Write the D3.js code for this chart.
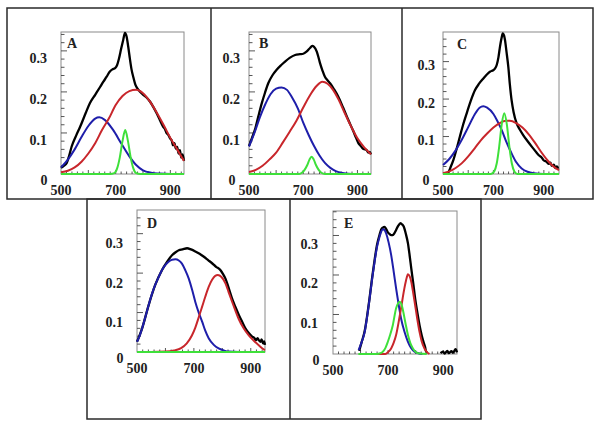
<!DOCTYPE html>
<html>
<head>
<meta charset="utf-8">
<script src="https://cdn.jsdelivr.net/npm/d3@7/dist/d3.min.js"></script>
<style>
  body { margin: 0; background: #fff; }
  svg { display: block; }
</style>
</head>
<body>
<svg id="chart" width="600" height="428"></svg>
<script>
// wavelength (nm) / absorbance pairs
const blackA = [[500,0.015],[510,0.02],[521,0.027],[530,0.045],[539,0.067],[555,0.093],[570,0.115],[590,0.148],[606,0.173],[625,0.193],[643,0.212],[655,0.225],[667,0.237],[678,0.249],[688,0.255],[698,0.258],[705,0.265],[712,0.281],[720,0.305],[728,0.328],[734,0.344],[740,0.335],[746,0.31],[752,0.281],[758,0.255],[765,0.235],[772,0.218],[780,0.208],[790,0.2],[801,0.193],[812,0.187],[826,0.176],[838,0.163],[850,0.148],[862,0.131],[874,0.115],[880,0.11],[886,0.1],[893,0.095],[899,0.087],[905,0.082],[910,0.07],[915,0.075],[920,0.062],[925,0.066],[930,0.05],[935,0.058],[940,0.04],[945,0.048],[950,0.032]];
const blueA = [[500,0.016],[525,0.035],[550,0.06],[575,0.09],[600,0.117],[625,0.135],[640,0.138],[660,0.132],[690,0.108],[720,0.075],[750,0.043],[775,0.022],[800,0.009],[830,0.003],[860,0.001],[900,0],[950,0]];
const redA = [[500,0.004],[525,0.008],[550,0.016],[575,0.03],[600,0.05],[625,0.075],[650,0.107],[675,0.135],[700,0.168],[725,0.19],[750,0.202],[775,0.205],[800,0.197],[825,0.177],[850,0.15],[875,0.12],[900,0.088],[925,0.06],[950,0.032]];
const greenA = [[500,0],[680,0],[695,0.002],[705,0.013],[715,0.04],[725,0.08],[735,0.107],[745,0.08],[755,0.04],[765,0.013],[775,0.002],[790,0],[950,0]];

const blackB = [[500,0.068],[511,0.088],[522,0.108],[535,0.142],[547,0.172],[559,0.198],[571,0.221],[586,0.24],[602,0.254],[618,0.265],[633,0.274],[650,0.283],[670,0.29],[688,0.292],[700,0.293],[712,0.298],[725,0.307],[733,0.312],[740,0.31],[750,0.298],[756,0.285],[762,0.27],[771,0.252],[780,0.237],[790,0.228],[799,0.221],[814,0.206],[829,0.189],[847,0.162],[866,0.132],[885,0.104],[895,0.088],[903,0.076],[910,0.07],[915,0.066],[920,0.062],[928,0.06],[935,0.057],[940,0.052],[945,0.054],[950,0.048]];
const blueB = [[500,0.067],[520,0.1],[540,0.138],[560,0.17],[580,0.195],[600,0.208],[620,0.211],[640,0.205],[660,0.185],[680,0.16],[700,0.125],[720,0.095],[740,0.068],[760,0.045],[780,0.027],[800,0.015],[820,0.007],[850,0.002],[880,0],[950,0]];
const redB = [[500,0.005],[525,0.01],[550,0.02],[575,0.035],[600,0.052],[625,0.077],[650,0.103],[675,0.13],[700,0.162],[725,0.192],[750,0.215],[770,0.225],[790,0.22],[810,0.205],[830,0.182],[850,0.153],[875,0.118],[900,0.087],[925,0.065],[950,0.048]];
const greenB = [[500,0],[685,0],[695,0.003],[705,0.01],[715,0.022],[723,0.035],[731,0.042],[739,0.035],[747,0.022],[757,0.01],[767,0.003],[780,0],[950,0]];

const blackC = [[515,0],[521,0.004],[530,0.018],[541,0.037],[554,0.067],[567,0.1],[580,0.132],[594,0.162],[610,0.195],[627,0.224],[643,0.241],[660,0.255],[673,0.265],[686,0.273],[699,0.277],[706,0.281],[713,0.291],[720,0.312],[726,0.34],[732,0.362],[737,0.375],[742,0.37],[746,0.357],[752,0.325],[759,0.286],[765,0.24],[772,0.197],[780,0.165],[792,0.135],[805,0.118],[818,0.104],[835,0.088],[852,0.073],[870,0.058],[880,0.05],[891,0.044],[900,0.036],[910,0.033],[920,0.027],[926,0.03],[931,0.022],[940,0.025],[946,0.016],[952,0.02],[957,0.014]];
const blueC = [[500,0.024],[525,0.04],[550,0.063],[575,0.092],[600,0.125],[625,0.158],[645,0.177],[660,0.181],[675,0.177],[700,0.16],[715,0.142],[733,0.117],[750,0.088],[772,0.055],[790,0.032],[812,0.015],[835,0.006],[860,0.002],[900,0],[960,0]];
const redC = [[500,0.002],[525,0.007],[550,0.016],[575,0.029],[600,0.047],[625,0.068],[650,0.09],[675,0.108],[700,0.124],[725,0.136],[750,0.142],[765,0.142],[790,0.136],[815,0.124],[840,0.106],[865,0.083],[890,0.058],[915,0.036],[940,0.019],[960,0.01]];
const greenC = [[500,0],[690,0],[703,0.007],[713,0.028],[723,0.074],[733,0.133],[743,0.162],[753,0.133],[763,0.074],[773,0.028],[783,0.007],[795,0],[960,0]];

const blackD = [[500,0.026],[518,0.06],[541,0.119],[564,0.17],[588,0.208],[605,0.228],[624,0.246],[636,0.253],[647,0.258],[660,0.26],[676,0.263],[690,0.26],[705,0.255],[720,0.249],[734,0.242],[750,0.233],[764,0.225],[778,0.216],[793,0.208],[802,0.198],[811,0.186],[822,0.163],[834,0.136],[846,0.114],[858,0.094],[870,0.076],[881,0.06],[893,0.048],[905,0.039],[912,0.036],[918,0.03],[924,0.035],[928,0.03],[934,0.026],[938,0.032],[943,0.022],[947,0.027],[950,0.018]];
const blueD = [[500,0.026],[509,0.04],[518,0.06],[530,0.09],[541,0.119],[552,0.146],[564,0.17],[576,0.19],[588,0.208],[600,0.221],[611,0.229],[623,0.234],[635,0.235],[647,0.232],[658,0.224],[670,0.207],[682,0.186],[694,0.157],[705,0.127],[717,0.1],[729,0.077],[740,0.054],[752,0.035],[770,0.018],[787,0.009],[805,0.004],[822,0.001],[860,0],[950,0]];
const redD = [[500,0],[550,0],[600,0.001],[630,0.004],[655,0.01],[675,0.022],[693,0.042],[705,0.062],[717,0.088],[729,0.115],[740,0.14],[752,0.165],[764,0.183],[775,0.193],[784,0.195],[797,0.19],[811,0.174],[822,0.152],[834,0.128],[846,0.105],[858,0.083],[875,0.06],[893,0.042],[910,0.029],[928,0.017],[947,0.006],[950,0.005]];
const greenD = [[500,0],[950,0]];

const blackE = [[595,0.008],[604,0.03],[615,0.058],[624,0.097],[633,0.143],[642,0.193],[651,0.238],[660,0.277],[669,0.302],[675,0.315],[681,0.32],[687,0.322],[693,0.316],[699,0.308],[705,0.304],[711,0.301],[717,0.301],[723,0.306],[729,0.314],[737,0.325],[745,0.331],[751,0.328],[757,0.322],[764,0.305],[772,0.28],[778,0.25],[784,0.217],[791,0.18],[798,0.141],[806,0.105],[814,0.073],[822,0.047],[830,0.027],[834,0.018],[838,0.006],[842,0.004]];
const blackTailE = [[890,0.002],[900,0.006],[905,0.001],[915,0.008],[920,0.002],[930,0.007],[935,0.003],[945,0.012],[950,0.004]];
const blueE = [[593,0.01],[604,0.03],[615,0.056],[624,0.095],[633,0.141],[642,0.19],[651,0.234],[660,0.272],[669,0.297],[675,0.31],[681,0.316],[687,0.314],[693,0.305],[702,0.282],[711,0.251],[720,0.21],[729,0.166],[738,0.126],[747,0.09],[760,0.055],[772,0.031],[784,0.015],[796,0.006],[810,0.002],[825,0]];
const redE = [[600,0],[690,0],[700,0.005],[711,0.014],[720,0.028],[729,0.048],[738,0.08],[747,0.116],[753,0.142],[759,0.166],[765,0.186],[772,0.202],[778,0.197],[784,0.183],[791,0.155],[798,0.124],[806,0.088],[814,0.056],[822,0.032],[832,0.014],[842,0.004],[850,0]];
const greenE = [[592,0],[660,0],[672,0.002],[681,0.006],[690,0.015],[699,0.031],[708,0.05],[717,0.073],[729,0.116],[736,0.128],[742,0.132],[748,0.127],[755,0.107],[763,0.078],[772,0.048],[781,0.027],[790,0.014],[800,0.005],[815,0.001],[840,0]];

const xTickLabels = [500, 700, 900];
const yTickLabels = [0.1, 0.2, 0.3];

const colors = { black: "#000", blue: "#1e1eaa", red: "#c8262b", green: "#3ee03a" };

// frame of each small plot, in page pixels
const panels = [
  { name: "A", x0: 61,  x1: 184, y0: 32,  y1: 174, xMax: 950, yMax: 0.346, labOff: 7,   ylabX: 47,  letter: [67, 48],
    series: [[blackA, "black"], [blueA, "blue"], [redA, "red"], [greenA, "green"]] },
  { name: "B", x0: 249, x1: 371, y0: 32,  y1: 174, xMax: 950, yMax: 0.346, labOff: 7,   ylabX: 240, letter: [259, 48],
    series: [[blackB, "black"], [blueB, "blue"], [redB, "red"], [greenB, "green"]] },
  { name: "C", x0: 443, x1: 559, y0: 32,  y1: 174, xMax: 960, yMax: 0.379, labOff: 3.5, ylabX: 435, letter: [457, 49],
    series: [[blackC, "black"], [blueC, "blue"], [redC, "red"], [greenC, "green"]] },
  { name: "D", x0: 137, x1: 265, y0: 210, y1: 352, xMax: 950, yMax: 0.360, labOff: 9.5, ylabX: 123, letter: [147, 228],
    series: [[blackD, "black"], [blueD, "blue"], [redD, "red"], [greenD, "green"]] },
  { name: "E", x0: 333, x1: 457, y0: 211, y1: 354, xMax: 950, yMax: 0.362, labOff: 8.5, ylabX: 318, letter: [344, 228],
    series: [[blackE, "black"], [blackTailE, "black"], [blueE, "blue"], [redE, "red"], [greenE, "green"]] }
];

const svg = d3.select("#chart");
const font = "'Liberation Serif', 'Times New Roman', serif";

// outer boxes of the figure
const boxes = svg.append("g").attr("fill", "none").attr("stroke", "#2a2a2a").attr("stroke-width", 1.5);
boxes.append("rect").attr("x", 7).attr("y", 8).attr("width", 586).attr("height", 191);
boxes.append("line").attr("x1", 211).attr("x2", 211).attr("y1", 8).attr("y2", 199);
boxes.append("line").attr("x1", 402).attr("x2", 402).attr("y1", 8).attr("y2", 199);
boxes.append("rect").attr("x", 87).attr("y", 199).attr("width", 394).attr("height", 220);
boxes.append("line").attr("x1", 290).attr("x2", 290).attr("y1", 199).attr("y2", 419);

panels.forEach(p => {
  const g = svg.append("g");
  const x = d3.scaleLinear().domain([500, p.xMax]).range([p.x0, p.x1]);
  const y = d3.scaleLinear().domain([0, p.yMax]).range([p.y1, p.y0]);

  // plot frame
  g.append("rect")
    .attr("x", p.x0).attr("y", p.y0)
    .attr("width", p.x1 - p.x0).attr("height", p.y1 - p.y0)
    .attr("fill", "none").attr("stroke", "#8a8a8a").attr("stroke-width", 1);

  // inner ticks, left axis every 0.02
  const yt = d3.range(0.02, p.yMax, 0.02);
  g.append("g").selectAll("line").data(yt).join("line")
    .attr("x1", p.x0).attr("x2", (d, i) => p.x0 + ((i + 1) % 5 === 0 ? 6 : 3.5))
    .attr("y1", d => y(d)).attr("y2", d => y(d))
    .attr("stroke", "#444").attr("stroke-width", 0.9);

  // inner ticks, bottom axis every 20 nm
  const xt = d3.range(520, p.xMax, 20);
  g.append("g").selectAll("line").data(xt).join("line")
    .attr("x1", d => x(d)).attr("x2", d => x(d))
    .attr("y1", p.y1).attr("y2", d => p.y1 - (d % 100 === 0 ? 4 : 2.5))
    .attr("stroke", "#444").attr("stroke-width", 0.9);

  // curves
  const line = d3.line().x(d => x(d[0])).y(d => y(d[1])).curve(d3.curveMonotoneX);
  p.series.forEach(([data, c]) => {
    g.append("path")
      .attr("d", line(data))
      .attr("fill", "none")
      .attr("stroke", colors[c])
      .attr("stroke-width", c === "black" ? 2.3 : 2)
      .attr("stroke-linejoin", "round");
  });

  // tick labels
  const txt = g.append("g").attr("font-family", font).attr("font-weight", "bold")
    .attr("font-size", 14).attr("fill", "#222");
  txt.selectAll("text.yl").data(yTickLabels).join("text")
    .attr("class", "yl")
    .attr("x", p.ylabX).attr("y", d => y(d) + p.labOff + 5)
    .attr("text-anchor", "end")
    .text(d => d3.format(".1f")(d));
  txt.selectAll("text.xl").data(xTickLabels).join("text")
    .attr("class", "xl")
    .attr("x", d => x(d)).attr("y", p.y1 + 21)
    .attr("text-anchor", "middle")
    .text(d => d);
  txt.append("text")
    .attr("x", x(500) - 17).attr("y", p.y1 + 11)
    .attr("text-anchor", "middle")
    .text("0");

  // panel letter
  g.append("text")
    .attr("x", p.letter[0]).attr("y", p.letter[1])
    .attr("font-family", font).attr("font-weight", "bold")
    .attr("font-size", 14).attr("fill", "#222")
    .text(p.name);
});
</script>
</body>
</html>
